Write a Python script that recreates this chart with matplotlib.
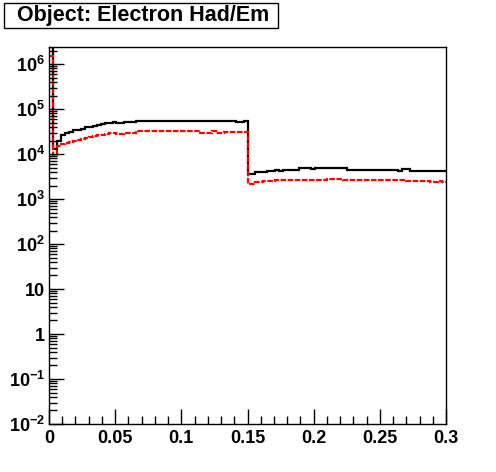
import numpy as np
import matplotlib
matplotlib.use("Agg")
import matplotlib.pyplot as plt
from matplotlib.ticker import LogLocator, FixedLocator, FuncFormatter, MultipleLocator, NullFormatter
from matplotlib.patches import Rectangle

plt.rcParams['font.family'] = ['Liberation Sans', 'DejaVu Sans']
plt.rcParams['font.weight'] = 'bold'
plt.rcParams['mathtext.fontset'] = 'custom'
plt.rcParams['mathtext.rm'] = 'Liberation Sans:bold'
plt.rcParams['mathtext.bf'] = 'Liberation Sans:bold'
plt.rcParams['mathtext.it'] = 'Liberation Sans:bold'

# histogram binning: 100 bins from 0 to 0.3
bin_edges = np.linspace(0.0, 0.3, 101)

# Had/Em, all electrons (black)
all_counts = [
    2.4e6, 1.3e4, 2.0e4, 2.6e4, 2.9e4, 3.1e4, 3.4e4, 3.5e4, 3.7e4, 3.9e4,
    4.1e4, 4.3e4, 4.5e4, 4.7e4, 4.9e4, 5.0e4, 5.1e4, 4.8e4, 4.8e4, 5.2e4,
    5.2e4, 5.2e4, 5.5e4, 5.5e4, 5.5e4, 5.5e4, 5.5e4, 5.5e4, 5.5e4, 5.5e4,
    5.5e4, 5.5e4, 5.5e4, 5.5e4, 5.5e4, 5.5e4, 5.5e4, 5.5e4, 5.5e4, 5.5e4,
    5.5e4, 5.5e4, 5.5e4, 5.5e4, 5.5e4, 5.5e4, 5.5e4, 5.2e4, 5.2e4, 5.5e4,
    3.7e3, 3.7e3, 4.0e3, 4.0e3, 4.0e3, 4.3e3, 4.3e3, 4.5e3, 4.3e3, 4.5e3,
    4.5e3, 4.5e3, 4.5e3, 4.8e3, 4.8e3, 4.8e3, 4.6e3, 4.8e3, 4.8e3, 4.8e3,
    4.8e3, 4.8e3, 4.8e3, 4.8e3, 4.8e3, 4.5e3, 4.5e3, 4.5e3, 4.5e3, 4.5e3,
    4.5e3, 4.5e3, 4.5e3, 4.5e3, 4.5e3, 4.5e3, 4.5e3, 4.5e3, 4.3e3, 4.6e3,
    4.6e3, 4.3e3, 4.3e3, 4.3e3, 4.3e3, 4.3e3, 4.3e3, 4.3e3, 4.3e3, 4.3e3,
]

# Had/Em, selected electrons (red)
sel_counts = [
    1.5e6, 9.5e3, 1.5e4, 1.7e4, 1.8e4, 1.9e4, 2.0e4, 2.1e4, 2.2e4, 2.3e4,
    2.4e4, 2.5e4, 2.6e4, 2.7e4, 2.8e4, 2.9e4, 3.0e4, 2.8e4, 2.8e4, 2.9e4,
    2.9e4, 2.9e4, 3.2e4, 3.2e4, 3.2e4, 3.2e4, 3.2e4, 3.2e4, 3.2e4, 3.2e4,
    3.2e4, 3.2e4, 3.2e4, 3.2e4, 3.2e4, 3.2e4, 3.2e4, 3.2e4, 3.0e4, 3.0e4,
    3.0e4, 3.2e4, 3.0e4, 3.0e4, 3.1e4, 3.1e4, 3.1e4, 3.1e4, 3.1e4, 3.1e4,
    2.2e3, 2.2e3, 2.4e3, 2.4e3, 2.5e3, 2.5e3, 2.5e3, 2.6e3, 2.6e3, 2.6e3,
    2.65e3, 2.65e3, 2.65e3, 2.65e3, 2.65e3, 2.65e3, 2.65e3, 2.65e3, 2.65e3, 2.7e3,
    2.75e3, 2.8e3, 2.75e3, 2.8e3, 2.7e3, 2.7e3, 2.65e3, 2.65e3, 2.65e3, 2.6e3,
    2.65e3, 2.65e3, 2.6e3, 2.6e3, 2.6e3, 2.65e3, 2.6e3, 2.6e3, 2.65e3, 2.6e3,
    2.55e3, 2.55e3, 2.5e3, 2.5e3, 2.5e3, 2.5e3, 2.45e3, 2.45e3, 2.5e3, 2.4e3,
]

# decade ticks shown on the y axis
y_decades = [-2, -1, 0, 1, 2, 3, 4, 5, 6]

title = "Object: Electron Had/Em"

fig = plt.figure(figsize=(4.96, 4.72), dpi=100)
ax = fig.add_axes([49 / 496, 48 / 472, 397 / 496, 377 / 472])

ax.stairs(all_counts, bin_edges, baseline=None, color='black', lw=1.6)
ax.stairs(sel_counts, bin_edges, baseline=None, color='red', lw=1.6,
          linestyle=(0, (2.5, 0.7)))

ax.set_yscale('log')
ax.set_xlim(0, 0.3)
ax.set_ylim(1e-2, 2.4e6)

def log_label(v, pos):
    e = int(round(np.log10(v)))
    if e == 0:
        return '1'
    if e == 1:
        return '10'
    return '10$^{%d}$' % e

ax.yaxis.set_major_locator(FixedLocator([10.0 ** e for e in y_decades]))
ax.yaxis.set_minor_locator(LogLocator(base=10, subs=np.arange(2, 10), numticks=20))
ax.yaxis.set_major_formatter(FuncFormatter(log_label))
ax.yaxis.set_minor_formatter(NullFormatter())

ax.xaxis.set_major_locator(MultipleLocator(0.05))
ax.xaxis.set_minor_locator(MultipleLocator(0.01))
ax.xaxis.set_major_formatter(FuncFormatter(lambda v, p: '0' if abs(v) < 1e-9 else ('%g' % v)))

ax.tick_params(which='both', direction='in', top=False, right=False, width=1, labelsize=13)
ax.tick_params(which='major', length=11)
ax.tick_params(which='minor', length=5.5)
ax.tick_params(axis='x', pad=4)
ax.tick_params(axis='y', pad=3)
for lab in ax.get_xticklabels() + ax.get_yticklabels():
    lab.set_fontweight('bold')
for s in ax.spines.values():
    s.set_linewidth(1)

# ROOT style title box
fig.patches.append(Rectangle((4 / 496, 1 - 28 / 472), 274 / 496, 25 / 472,
                             transform=fig.transFigure, facecolor='white',
                             edgecolor='black', lw=1))
fig.text(143 / 496, 1 - 15.5 / 472, title, ha='center', va='center',
         fontsize=15.5, fontweight='bold')

fig.savefig('out.png', dpi=100)
